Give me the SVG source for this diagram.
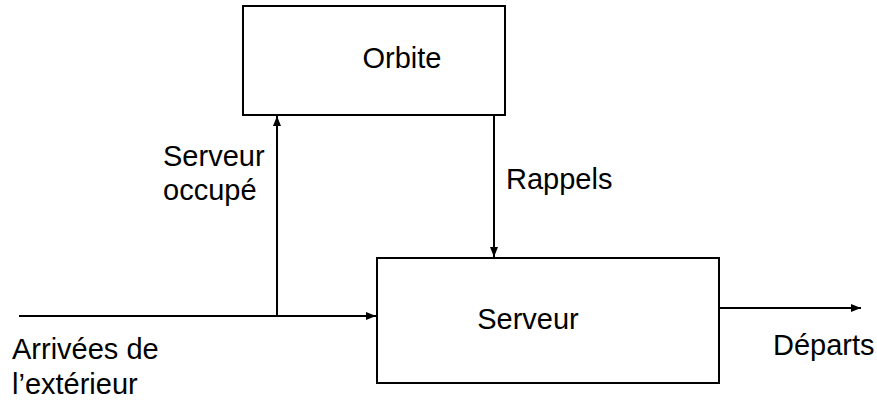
<svg xmlns="http://www.w3.org/2000/svg" width="877" height="402" viewBox="0 0 877 402">
<defs>
<style>
.box{fill:#fff;stroke:#000;stroke-width:2}
.ln{fill:none;stroke:#000;stroke-width:2}
text{font-family:"Liberation Sans",Arial,sans-serif;font-size:29px;fill:#000}
</style>
<marker id="ah" viewBox="0 0 10 8" refX="10" refY="4" markerWidth="10" markerHeight="8" markerUnits="userSpaceOnUse" orient="auto">
<path d="M0,0 L10,4 L0,8 Z" fill="#000"/>
</marker>
</defs>
<rect width="877" height="402" fill="#fff"/>
<g id="connectors">
<line class="ln" x1="19" y1="316" x2="376" y2="316" marker-end="url(#ah)"/>
<line class="ln" x1="277" y1="316" x2="277" y2="116" marker-end="url(#ah)"/>
<line class="ln" x1="494" y1="115" x2="494" y2="257" marker-end="url(#ah)"/>
<line class="ln" x1="719" y1="308" x2="861" y2="308" marker-end="url(#ah)"/>
</g>
<g id="orbite">
<rect class="box" x="243" y="6" width="262" height="109"/>
<text x="402" y="68" text-anchor="middle">Orbite</text>
</g>
<g id="serveur">
<rect class="box" x="377" y="258" width="342" height="125"/>
<text x="528" y="329" text-anchor="middle">Serveur</text>
</g>
<g id="labels">
<text x="163" y="166">Serveur</text>
<text x="163" y="200">occupé</text>
<text x="506" y="189">Rappels</text>
<text x="12" y="359">Arrivées de</text>
<text x="12" y="394">l’extérieur</text>
<text x="773" y="355">Départs</text>
</g>
</svg>
